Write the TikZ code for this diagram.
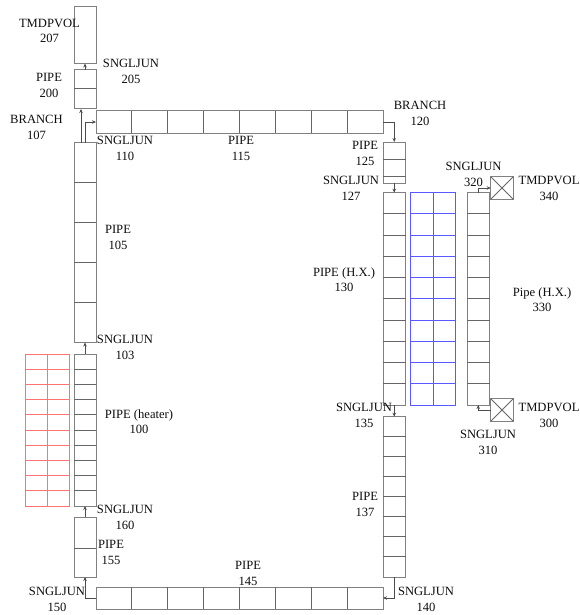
\documentclass[tikz,border=0pt]{standalone}
\usepackage{fontspec}
\setmainfont{Liberation Serif}
\usetikzlibrary{arrows.meta, positioning, calc}

\begin{document}
\begin{tikzpicture}[
  x=1pt, y=-1pt,
  every node/.style={font=\fontsize{12.6}{15.5}\selectfont, align=center},
  cell/.style={draw=black!50, line width=1pt, outer sep=0pt, inner sep=0pt},
  cellline/.style={draw=black!60, line width=1pt},
  redcell/.style={draw=red!55, line width=1pt},
  bluecell/.style={draw=blue!65, line width=1pt},
  arr/.style={-{Stealth[length=4pt, width=3.5pt]}, black!70, line width=0.8pt},
  lbl/.style={text=black!95, inner sep=0pt}
]
  \useasboundingbox (0,0) rectangle (580,615);

  % --- Left leg ---
  \node[cell, minimum width=22pt, minimum height=57pt] (v207) at (85,35) {};
  \node[cell, minimum width=22pt, minimum height=39pt] (p200) at (85,89.5) {};
  \node[cell, minimum width=22pt, minimum height=200pt] (p105) at (85,242.5) {};
  \node[cell, minimum width=22pt, minimum height=152pt] (p100) at (85,430) {};
  \node[cell, minimum width=22pt, minimum height=60pt] (p155) at (85,547) {};
  \draw[cellline] (74,89) -- (96,89);
  \foreach \i in {1,...,4}
    \draw[cellline] (74,{142.5+\i*40}) -- (96,{142.5+\i*40});
  \foreach \i in {1,...,9}
    \draw[cellline] (74,{354+\i*15.2}) -- (96,{354+\i*15.2});
  \draw[cellline] (74,548) -- (96,548);

  % --- Heater grid ---
  \foreach \i in {0,...,10}
    \draw[redcell] (25,{354+\i*15.2}) -- (69.5,{354+\i*15.2});
  \foreach \xa in {25,47,69.5}
    \draw[redcell] (\xa,354) -- (\xa,506);

  % --- Horizontal runs ---
  \node[cell, minimum width=287pt, minimum height=22pt] (p115) at (239.5,122) {};
  \node[cell, minimum width=287pt, minimum height=22pt] (p145) at (239.5,598) {};
  \foreach \i in {1,...,7} {
    \draw[cellline] ({96+\i*35.9},111) -- ({96+\i*35.9},133);
    \draw[cellline] ({96+\i*35.9},587) -- ({96+\i*35.9},609);
  }

  % --- Right leg ---
  \node[cell, minimum width=22.5pt, minimum height=41pt] (p125) at (394.25,162.5) {};
  \node[cell, minimum width=22.5pt, minimum height=212.3pt] (p130) at (394.25,298.85) {};
  \node[cell, minimum width=22.5pt, minimum height=160.3pt] (p137) at (394.25,496.85) {};
  \draw[cellline] (383,159) -- (405.5,159);
  \draw[cellline] (383,176) -- (405.5,176);
  \foreach \i in {1,...,9}
    \draw[cellline] (383,{192.7+\i*21.23}) -- (405.5,{192.7+\i*21.23});
  \foreach \i in {1,...,7}
    \draw[cellline] (383,{416.7+\i*20.04}) -- (405.5,{416.7+\i*20.04});

  % --- Heat exchanger grid ---
  \foreach \i in {0,...,10}
    \draw[bluecell] (410,{192.7+\i*21.23}) -- (455.7,{192.7+\i*21.23});
  \foreach \xa in {410,433,455.7}
    \draw[bluecell] (\xa,192.7) -- (\xa,405);

  % --- Secondary side ---
  \node[cell, minimum width=22.5pt, minimum height=212.3pt] (p330) at (478.25,298.85) {};
  \foreach \i in {1,...,9}
    \draw[cellline] (467,{192.7+\i*21.23}) -- (489.5,{192.7+\i*21.23});
  \node[cell, minimum width=22.5pt, minimum height=22.5pt] (v340) at (502,188) {};
  \node[cell, minimum width=22.5pt, minimum height=22.5pt] (v300) at (502,410) {};
  \draw[cellline] (v340.north west) -- (v340.south east);
  \draw[cellline] (v340.north east) -- (v340.south west);
  \draw[cellline] (v300.north west) -- (v300.south east);
  \draw[cellline] (v300.north east) -- (v300.south west);

  % --- Junctions ---
  \draw[arr] (p200.north) -- (v207.south);
  \draw[arr] ([xshift=-4pt]p105.north) -- ([xshift=-4pt]p200.south);
  \draw[arr] (p105.north) |- (p115.west);
  \draw[arr] (p115.east) -| (p125.north);
  \draw[arr] (p125.south) -- (p130.north);
  \draw[arr] (p130.south) -- (p137.north);
  \draw[arr] (p137.south) |- (p145.east);
  \draw[arr] (p145.west) -| (p155.south);
  \draw[arr] (p155.north) -- (p100.south);
  \draw[arr] (p100.north) -- (p105.south);
  \draw[arr] (p330.north) |- (v340.west);
  \draw[arr] (v300.west) -| (p330.south);

  % --- Labels ---
  \node[lbl] (t207) at (49.5,31) {TMDPVOL\\207};
  \node[lbl] (t200) at (49,85.5) {PIPE\\200};
  \node[lbl] (t205) at (131,71.5) {SNGLJUN\\205};
  \node[lbl] (t107) at (36.5,127.5) {BRANCH\\107};
  \node[lbl] (t110) at (125,148.5) {SNGLJUN\\110};
  \node[lbl] (t115) at (241,148.5) {PIPE\\115};
  \node[lbl] (t120) at (420,113.5) {BRANCH\\120};
  \node[lbl] (t125) at (365,153.5) {PIPE\\125};
  \node[lbl] (t127) at (351,188.5) {SNGLJUN\\127};
  \node[lbl] (t320) at (473.5,174.5) {SNGLJUN\\320};
  \node[lbl] (t340) at (549,188.5) {TMDPVOL\\340};
  \node[lbl] (t130) at (344,279.5) {PIPE (H.X.)\\130};
  \node[lbl] (t330) at (542,299.5) {Pipe (H.X.)\\330};
  \node[lbl] (t135) at (364,415.5) {SNGLJUN\\135};
  \node[lbl] (t300) at (549,415.5) {TMDPVOL\\300};
  \node[lbl] (t310) at (488,442.5) {SNGLJUN\\310};
  \node[lbl] (t105) at (118,237.5) {PIPE\\105};
  \node[lbl] (t103) at (125,347.5) {SNGLJUN\\103};
  \node[lbl] (t100) at (139,421.5) {PIPE (heater)\\100};
  \node[lbl] (t160) at (125,517.5) {SNGLJUN\\160};
  \node[lbl] (t155) at (111,552.5) {PIPE\\155};
  \node[lbl] (t137) at (365,504.5) {PIPE\\137};
  \node[lbl] (t145) at (248,573.5) {PIPE\\145};
  \node[lbl] (t150) at (57,599.5) {SNGLJUN\\150};
  \node[lbl] (t140) at (426,599.5) {SNGLJUN\\140};
\end{tikzpicture}
\end{document}
